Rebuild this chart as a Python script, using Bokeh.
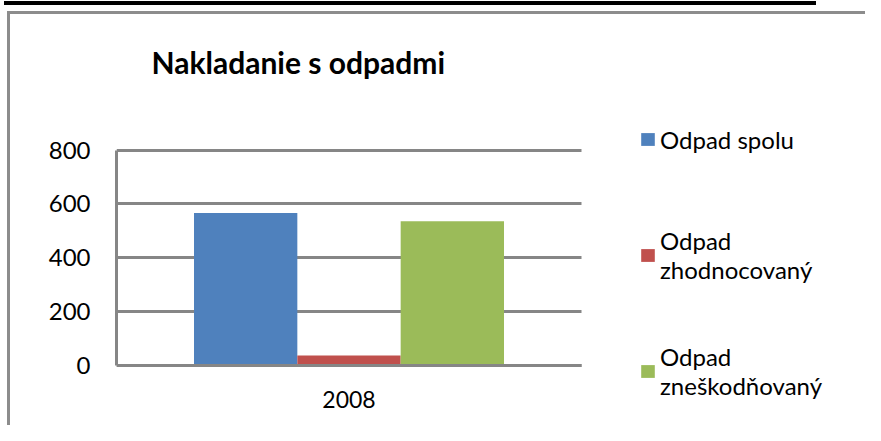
from bokeh.plotting import figure
from bokeh.models import (ColumnDataSource, Range1d, FixedTicker,
                          Legend, LegendItem, InlineStyleSheet)
from bokeh.transform import dodge
from bokeh.embed import file_html
from bokeh.resources import INLINE

years = ["2008"]
series_labels = ["Odpad spolu", "Odpad\nzhodnocovaný", "Odpad\nzneškodňovaný"]
odpad_spolu = [566]
odpad_zhodnocovany = [37]
odpad_zneskodnovany = [536]
colors = ["#4F81BD", "#C0504D", "#9BBB59"]
y_ticks = [0, 200, 400, 600, 800]

# category centres on a numeric scale (category i spans i..i+1)
x_pos = [i + 0.5 for i in range(len(years))]
src = ColumnDataSource(dict(x=x_pos, s1=odpad_spolu, s2=odpad_zhodnocovany,
                            s3=odpad_zneskodnovany))

W, H = 865, 425
FL, FT = 116, 100            # frame left / top (px)
CAT_PX = 465                 # width of one category in px
ZERO_PX, TOP_PX = 365, 149.6 # pixel rows of 0 and of the top tick
ppu = (ZERO_PX - TOP_PX) / y_ticks[-1]

p = figure(width=W, height=H,
           x_range=Range1d(0, (W - FL) / CAT_PX),
           y_range=Range1d(-(H - ZERO_PX) / ppu, (ZERO_PX - FT) / ppu),
           output_backend="svg", toolbar_location=None,
           min_border_left=FL, min_border_right=0,
           min_border_top=FT, min_border_bottom=0)

GRAY = "#868686"
n = len(years)

p.ygrid.grid_line_color = None
p.xgrid.grid_line_color = None
grid = p.ygrid[0]
if "cross_bounds" in grid.properties():
    grid.ticker = FixedTicker(ticks=y_ticks)
    grid.cross_bounds = (0, n)
    grid.bounds = (y_ticks[0], y_ticks[-1])
    grid.grid_line_color = GRAY
    grid.grid_line_width = 3
else:
    p.segment(x0=[0] * len(y_ticks), x1=[n] * len(y_ticks), y0=y_ticks, y1=y_ticks,
              line_color=GRAY, line_width=3)

bw = 2 / 9
r1 = p.vbar(x=dodge("x", -bw, range=p.x_range), top="s1", width=bw, source=src,
            fill_color=colors[0], line_color=None)
r2 = p.vbar(x=dodge("x", 0, range=p.x_range), top="s2", width=bw, source=src,
            fill_color=colors[1], line_color=None)
r3 = p.vbar(x=dodge("x", bw, range=p.x_range), top="s3", width=bw, source=src,
            fill_color=colors[2], line_color=None)

p.title.text = "Nakladanie s odpadmi"
p.title.text_font = "Lato"
p.title.text_font_style = "bold"
p.title.text_font_size = "30px"
p.title.text_color = "black"
p.title.align = "left"
p.title.offset = 35
p.title.standoff = 41

p.outline_line_color = None

xa = p.xaxis[0]
ya = p.yaxis[0]
xa.ticker = FixedTicker(ticks=x_pos)
xa.major_label_overrides = {x: y for x, y in zip(x_pos, years)}
xa.fixed_location = 0
xa.bounds = (0, n)
ya.ticker = FixedTicker(ticks=y_ticks)
ya.bounds = (y_ticks[0], y_ticks[-1])
for ax in (xa, ya):
    ax.axis_line_color = GRAY
    ax.axis_line_width = 3
    ax.major_tick_line_color = None
    ax.minor_tick_line_color = None
    ax.major_label_text_font = "Lato"
    ax.major_label_text_color = "black"
ya.major_label_text_font_size = "24px"
ya.major_label_standoff = 20
xa.major_label_text_font_size = "23px"
xa.major_label_standoff = 19

legend = Legend(items=[LegendItem(label=series_labels[0], renderers=[r1]),
                       LegendItem(label=series_labels[1], renderers=[r2]),
                       LegendItem(label=series_labels[2], renderers=[r3])],
                location=(523, 25))
legend.label_text_font = "Lato"
legend.label_text_font_size = "24px"
legend.label_text_color = "black"
legend.label_height = 58
legend.glyph_width = 17
legend.glyph_height = 16
legend.label_standoff = 4
legend.spacing = 58
legend.padding = 0
legend.margin = 0
legend.border_line_color = None
legend.background_fill_alpha = 0
p.add_layout(legend)

p.stylesheets = [InlineStyleSheet(css="""
:host::before {
  content: ""; position: absolute; left: 7px; top: 11px;
  width: calc(100% - 10px); height: calc(100% - 14px);
  border-top: 3px solid #8c8c8c; border-left: 3px solid #8c8c8c;
  pointer-events: none; z-index: 10;
}
:host::after {
  content: ""; position: absolute; left: 4px; top: 1px;
  width: 812px; height: 0px;
  border-top: 4px solid #000000;
  pointer-events: none; z-index: 10;
}
""")]

open("out.html", "w").write(file_html(p, INLINE))
